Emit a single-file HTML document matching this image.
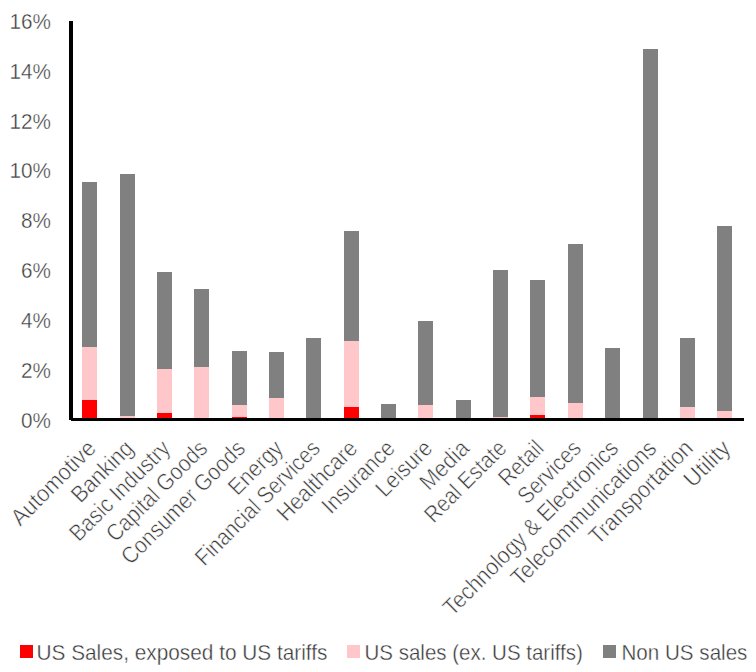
<!DOCTYPE html>
<html><head><meta charset="utf-8"><style>
html,body{margin:0;padding:0;background:#fff;}
body{width:756px;height:672px;position:relative;overflow:hidden;font-family:"Liberation Sans",sans-serif;color:#383838;-webkit-text-stroke:0.35px #fff;}
.b{position:absolute;width:15.0px;}
.ax{position:absolute;background:#000;}
.yl{position:absolute;right:705px;font-size:20.7px;line-height:24px;white-space:nowrap;transform:scaleY(1.1);}
.xl{position:absolute;font-size:21.3px;-webkit-text-stroke:0.5px #fff;line-height:24px;white-space:nowrap;transform-origin:100% 0;transform:rotate(-45deg) scaleY(1.1);}
.lg{position:absolute;top:639.7px;font-size:20.6px;line-height:24px;white-space:nowrap;transform:scaleY(1.1);}
.sq{position:absolute;top:645.1px;width:12.6px;height:12.6px;}
</style></head><body>
<div class="b" style="left:82.25px;top:182.00px;height:236.00px;background:#808080"></div>
<div class="b" style="left:82.25px;top:347.00px;height:71.00px;background:#FFC7C9"></div>
<div class="b" style="left:82.25px;top:399.60px;height:18.40px;background:#FF0000"></div>
<div class="b" style="left:119.60px;top:174.00px;height:244.00px;background:#808080"></div>
<div class="b" style="left:119.60px;top:415.70px;height:2.30px;background:#FFC7C9"></div>
<div class="b" style="left:156.95px;top:272.40px;height:145.60px;background:#808080"></div>
<div class="b" style="left:156.95px;top:368.70px;height:49.30px;background:#FFC7C9"></div>
<div class="b" style="left:156.95px;top:412.60px;height:5.40px;background:#FF0000"></div>
<div class="b" style="left:194.30px;top:289.00px;height:129.00px;background:#808080"></div>
<div class="b" style="left:194.30px;top:367.00px;height:51.00px;background:#FFC7C9"></div>
<div class="b" style="left:231.65px;top:350.90px;height:67.10px;background:#808080"></div>
<div class="b" style="left:231.65px;top:404.60px;height:13.40px;background:#FFC7C9"></div>
<div class="b" style="left:231.65px;top:416.80px;height:1.20px;background:#FF0000"></div>
<div class="b" style="left:269.00px;top:351.90px;height:66.10px;background:#808080"></div>
<div class="b" style="left:269.00px;top:397.60px;height:20.40px;background:#FFC7C9"></div>
<div class="b" style="left:306.35px;top:338.00px;height:80.00px;background:#808080"></div>
<div class="b" style="left:343.70px;top:230.70px;height:187.30px;background:#808080"></div>
<div class="b" style="left:343.70px;top:341.40px;height:76.60px;background:#FFC7C9"></div>
<div class="b" style="left:343.70px;top:407.00px;height:11.00px;background:#FF0000"></div>
<div class="b" style="left:381.05px;top:404.00px;height:14.00px;background:#808080"></div>
<div class="b" style="left:418.40px;top:321.10px;height:96.90px;background:#808080"></div>
<div class="b" style="left:418.40px;top:404.80px;height:13.20px;background:#FFC7C9"></div>
<div class="b" style="left:455.75px;top:400.10px;height:17.90px;background:#808080"></div>
<div class="b" style="left:493.10px;top:269.80px;height:148.20px;background:#808080"></div>
<div class="b" style="left:493.10px;top:416.50px;height:1.50px;background:#FFC7C9"></div>
<div class="b" style="left:530.45px;top:280.00px;height:138.00px;background:#808080"></div>
<div class="b" style="left:530.45px;top:396.70px;height:21.30px;background:#FFC7C9"></div>
<div class="b" style="left:530.45px;top:414.60px;height:3.40px;background:#FF0000"></div>
<div class="b" style="left:567.80px;top:243.80px;height:174.20px;background:#808080"></div>
<div class="b" style="left:567.80px;top:402.50px;height:15.50px;background:#FFC7C9"></div>
<div class="b" style="left:605.15px;top:348.00px;height:70.00px;background:#808080"></div>
<div class="b" style="left:642.50px;top:49.00px;height:369.00px;background:#808080"></div>
<div class="b" style="left:679.85px;top:338.25px;height:79.75px;background:#808080"></div>
<div class="b" style="left:679.85px;top:407.30px;height:10.70px;background:#FFC7C9"></div>
<div class="b" style="left:717.20px;top:225.70px;height:192.30px;background:#808080"></div>
<div class="b" style="left:717.20px;top:410.80px;height:7.20px;background:#FFC7C9"></div>
<div class="ax" style="left:69px;top:21px;width:4px;height:399px"></div>
<div class="ax" style="left:71px;top:418px;width:673px;height:3px"></div>
<div class="yl" style="top:407.50px">0%</div>
<div class="yl" style="top:357.69px">2%</div>
<div class="yl" style="top:307.88px">4%</div>
<div class="yl" style="top:258.07px">6%</div>
<div class="yl" style="top:208.26px">8%</div>
<div class="yl" style="top:158.45px">10%</div>
<div class="yl" style="top:108.64px">12%</div>
<div class="yl" style="top:58.83px">14%</div>
<div class="yl" style="top:9.02px">16%</div>
<div class="xl" style="right:673.75px;top:435.00px;transform:rotate(-45deg) scale(1.0239,1.1)">Automotive</div>
<div class="xl" style="right:636.40px;top:435.00px;transform:rotate(-45deg) scale(0.9972,1.1)">Banking</div>
<div class="xl" style="right:599.05px;top:435.00px;transform:rotate(-45deg) scale(0.9810,1.1)">Basic Industry</div>
<div class="xl" style="right:561.70px;top:435.00px;transform:rotate(-45deg) scale(0.9775,1.1)">Capital Goods</div>
<div class="xl" style="right:524.35px;top:435.00px;transform:rotate(-45deg) scale(0.9835,1.1)">Consumer Goods</div>
<div class="xl" style="right:487.00px;top:435.00px;transform:rotate(-45deg) scale(0.9801,1.1)">Energy</div>
<div class="xl" style="right:449.65px;top:435.00px;transform:rotate(-45deg) scale(0.9587,1.1)">Financial Services</div>
<div class="xl" style="right:412.30px;top:435.00px;transform:rotate(-45deg) scale(0.9973,1.1)">Healthcare</div>
<div class="xl" style="right:374.95px;top:435.00px;transform:rotate(-45deg) scale(0.9864,1.1)">Insurance</div>
<div class="xl" style="right:337.60px;top:435.00px;transform:rotate(-45deg) scale(0.9828,1.1)">Leisure</div>
<div class="xl" style="right:300.25px;top:435.00px;transform:rotate(-45deg) scale(1.0158,1.1)">Media</div>
<div class="xl" style="right:262.90px;top:435.00px;transform:rotate(-45deg) scale(0.9525,1.1)">Real Estate</div>
<div class="xl" style="right:225.55px;top:435.00px;transform:rotate(-45deg) scale(0.9727,1.1)">Retail</div>
<div class="xl" style="right:188.20px;top:435.00px;transform:rotate(-45deg) scale(0.9593,1.1)">Services</div>
<div class="xl" style="right:150.85px;top:435.00px;transform:rotate(-45deg) scale(0.9941,1.1)">Technology &amp; Electronics</div>
<div class="xl" style="right:113.50px;top:435.00px;transform:rotate(-45deg) scale(1.0084,1.1)">Telecommunications</div>
<div class="xl" style="right:76.15px;top:435.00px;transform:rotate(-45deg) scale(0.9953,1.1)">Transportation</div>
<div class="xl" style="right:38.80px;top:435.00px;transform:rotate(-45deg) scale(1.0530,1.1)">Utility</div>
<div class="sq" style="left:20.2px;background:#FF0000"></div>
<div class="lg" style="left:36.5px;font-size:20.8px">US Sales, exposed to US tariffs</div>
<div class="sq" style="left:347px;background:#FFC7C9"></div>
<div class="lg" style="left:364.5px;font-size:20.5px">US sales (ex. US tariffs)</div>
<div class="sq" style="left:603px;background:#808080"></div>
<div class="lg" style="left:621.5px">Non US sales</div>
</body></html>
